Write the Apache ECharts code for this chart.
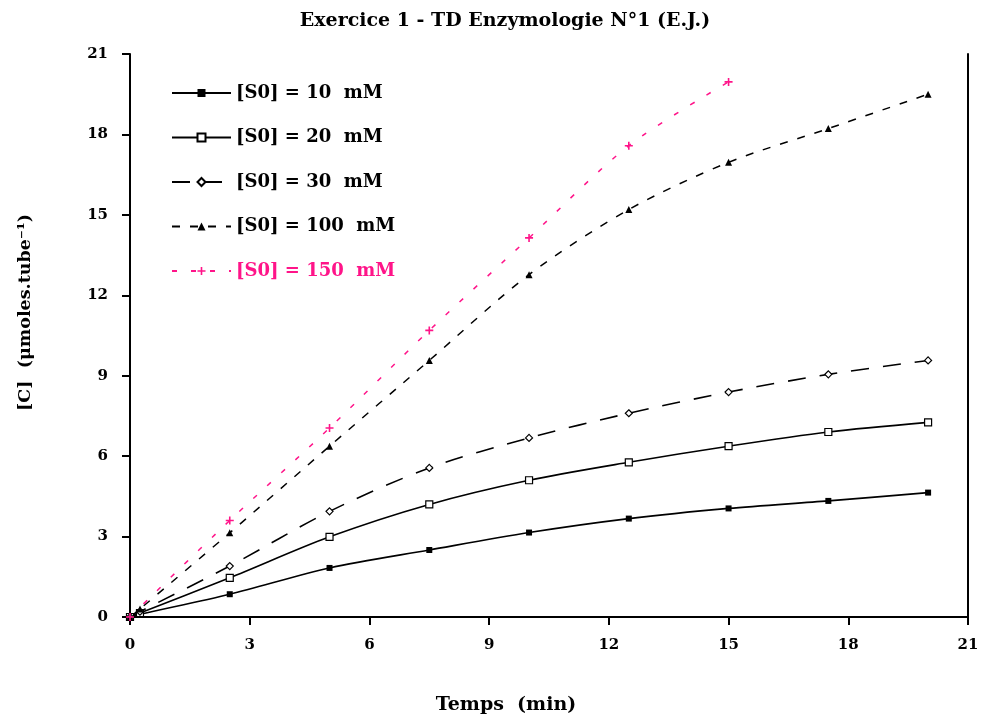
<!DOCTYPE html>
<html>
<head>
<meta charset="utf-8">
<script src="https://cdn.jsdelivr.net/npm/echarts@6/dist/echarts.min.js"></script>
<style>
html,body{margin:0;padding:0;background:#fff;}
#chart{width:984px;height:725px;}
</style>
</head>
<body>
<div id="chart"></div>
<script>
var titleText = 'Exercice 1 - TD Enzymologie N°1 (E.J.)';
var xAxisName = 'Temps  (min)';
var yAxisName = '[C]  (\u03bcmoles.tube\u207b\u00b9)';
var seriesNames = ['[S0] = 10  mM', '[S0] = 20  mM', '[S0] = 30  mM', '[S0] = 100  mM', '[S0] = 150  mM'];
var times = [0, 0.25, 2.5, 5, 7.5, 10, 12.5, 15, 17.5, 20];
var s10  = [0, 0.10, 0.85, 1.83, 2.50, 3.15, 3.67, 4.05, 4.33, 4.64];
var s20  = [0, 0.15, 1.46, 2.99, 4.20, 5.10, 5.77, 6.37, 6.90, 7.26];
var s30  = [0, 0.20, 1.90, 3.94, 5.56, 6.68, 7.60, 8.39, 9.05, 9.57];
var s100 = [0, 0.30, 3.14, 6.37, 9.57, 12.77, 15.20, 16.96, 18.22, 19.50];
var times150 = [0, 2.5, 5, 7.5, 10, 12.5, 15];
var s150 = [0, 3.60, 7.05, 10.69, 14.14, 17.58, 19.96];
var xTicks = [0, 3, 6, 9, 12, 15, 18, 21];
var yTicks = [0, 3, 6, 9, 12, 15, 18, 21];

function pairs(xs, ys){ return xs.map(function(x,i){ return [x, ys[i]]; }); }

var FONT = '"DejaVu Serif", "Liberation Serif", serif';
var PINK = '#ff1489';
var plusPath = 'path://M4,0H6V4H10V6H6V10H4V6H0V4H4Z';

var chart = echarts.init(document.getElementById('chart'));
chart.setOption({
  backgroundColor: '#fff',
  animation: false,
  title: {
    text: titleText, left: 500, top: 7, textAlign: 'center',
    textStyle: {fontFamily: FONT, fontWeight: 'bold', fontSize: 19, color: '#000'}
  },
  legend: {
    orient: 'vertical', left: 166, top: 79, itemGap: 26.5,
    itemWidth: 59, itemHeight: 10,
    textStyle: {fontFamily: FONT, fontWeight: 'bold', fontSize: 18, color: '#000'},
    data: [
      {name: seriesNames[0]}, {name: seriesNames[1]}, {name: seriesNames[2]}, {name: seriesNames[3]},
      {name: seriesNames[4], textStyle: {color: PINK}}
    ]
  },
  grid: {left: 130, right: 16, top: 54, bottom: 108, containLabel: false},
  xAxis: {
    type: 'value', min: xTicks[0], max: xTicks[xTicks.length-1], interval: 3,
    name: xAxisName, nameLocation: 'middle', nameGap: 79,
    nameTextStyle: {fontFamily: FONT, fontWeight: 'bold', fontSize: 19, color: '#000', padding: [0, 86, 0, 0]},
    axisLine: {lineStyle: {color: '#000', width: 2}},
    axisTick: {show: true, length: 8, lineStyle: {color: '#000', width: 2}},
    axisLabel: {margin: 21, fontFamily: FONT, fontWeight: 'bold', fontSize: 15, color: '#000'},
    splitLine: {show: false}
  },
  yAxis: [{
    type: 'value', min: yTicks[0], max: yTicks[yTicks.length-1], interval: 3,
    name: yAxisName, nameLocation: 'middle', nameGap: 96, nameRotate: 90,
    nameTextStyle: {fontFamily: FONT, fontWeight: 'bold', fontSize: 17.5, color: '#000', padding: [0, 0, 0, 46]},
    axisLine: {show: true, lineStyle: {color: '#000', width: 2}},
    axisTick: {show: true, length: 8, lineStyle: {color: '#000', width: 2}},
    axisLabel: {margin: 22, fontFamily: FONT, fontWeight: 'bold', fontSize: 15, color: '#000'},
    splitLine: {show: false}
  }, {
    type: 'value', min: yTicks[0], max: yTicks[yTicks.length-1], interval: 3, position: 'right',
    axisLine: {show: true, lineStyle: {color: '#000', width: 2}},
    axisTick: {show: false}, axisLabel: {show: false}, splitLine: {show: false}
  }],
  series: [
    {name: seriesNames[0], type: 'line', data: pairs(times, s10), smooth: 0.3,
     symbol: 'rect', symbolSize: 6, itemStyle: {color: '#000'},
     lineStyle: {color: '#000', width: 1.6}},
    {name: seriesNames[1], type: 'line', data: pairs(times, s20), smooth: 0.3,
     symbol: 'rect', symbolSize: 7, itemStyle: {color: '#fff', borderColor: '#000', borderWidth: 1.2},
     lineStyle: {color: '#000', width: 1.6}},
    {name: seriesNames[2], type: 'line', data: pairs(times, s30), smooth: 0.3,
     symbol: 'diamond', symbolSize: 7, itemStyle: {color: '#fff', borderColor: '#000', borderWidth: 1.2},
     lineStyle: {color: '#000', width: 1.6, type: [18, 14]}},
    {name: seriesNames[3], type: 'line', data: pairs(times, s100), smooth: 0.3,
     symbol: 'triangle', symbolSize: 7, itemStyle: {color: '#000'},
     lineStyle: {color: '#000', width: 1.5, type: [8, 10]}},
    {name: seriesNames[4], type: 'line', data: pairs(times150, s150), smooth: 0.3,
     symbol: plusPath, symbolSize: 8, itemStyle: {color: PINK},
     lineStyle: {color: PINK, width: 1.5, type: [5, 14]}}
  ]
});
</script>
</body>
</html>
